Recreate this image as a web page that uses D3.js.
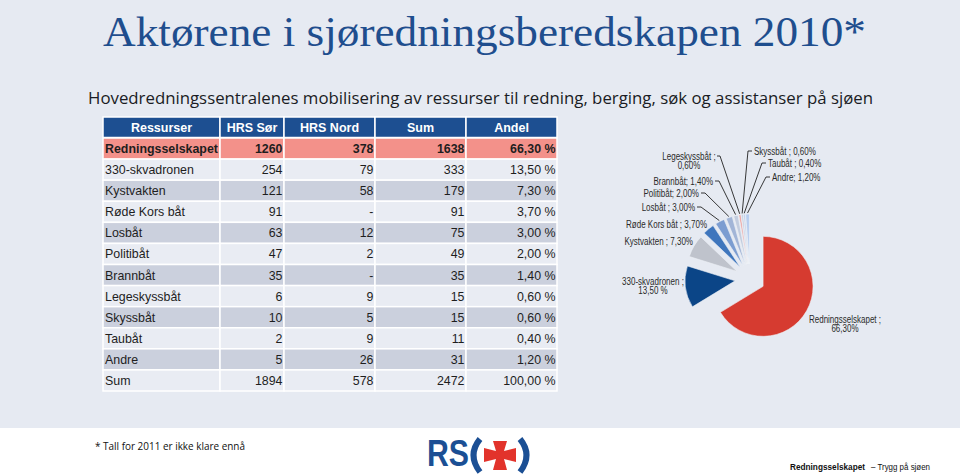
<!DOCTYPE html>
<html><head><meta charset="utf-8">
<script src="https://cdn.jsdelivr.net/npm/d3@7"></script>
<style>body{margin:0;background:#fff;} svg{display:block;}</style>
</head><body><svg id="c" width="960" height="474"></svg>
<script>
// ---------- DATA ----------
const columns = ["Ressurser", "HRS Sør", "HRS Nord", "Sum", "Andel"];
const categories = ["Redningsselskapet", "330-skvadronen", "Kystvakten", "Røde Kors båt", "Losbåt", "Politibåt", "Brannbåt", "Legeskyssbåt", "Skyssbåt", "Taubåt", "Andre"];
const hrsSor = [1260, 254, 121, 91, 63, 47, 35, 6, 10, 2, 5];
const hrsNord = [378, 79, 58, null, 12, 2, null, 9, 5, 9, 26];
const sums = [1638, 333, 179, 91, 75, 49, 35, 15, 15, 11, 31];
const andel = [66.3, 13.5, 7.3, 3.7, 3.0, 2.0, 1.4, 0.6, 0.6, 0.4, 1.2];
const totalRow = ["Sum", 1894, 578, 2472, 100];
const pieLabelText = [
  ["Redningsselskapet  ;", "66,30%"], ["330-skvadronen ;", "13,50 %"], ["Kystvakten ; 7,30%"],
  ["Røde Kors båt ; 3,70%"], ["Losbåt ; 3,00%"], ["Politibåt; 2,00%"], ["Brannbåt; 1,40%"],
  ["Legeskyssbåt ;", "0,60%"], ["Skyssbåt ; 0,60%"], ["Taubåt ; 0,40%"], ["Andre; 1,20%"]
];
const titleText = "Aktørene i sjøredningsberedskapen 2010*";
const subtitleText = "Hovedredningssentralenes mobilisering av ressurser til redning, berging, søk og assistanser på sjøen";
const footnoteText = "* Tall for 2011 er ikke klare ennå";

// ---------- STYLE / LAYOUT ----------
const pieColors = ["#d63b30", "#0b4587", "#bfc3cc", "#3f76bd", "#7c9dd1", "#a2b5d7", "#c3cddf", "#ec9c98", "#c6d0e2", "#a9c0e6", "#b7cdef"];
const labelLayout = [
  {x: 845, y: 319, a: "middle", lead: false},
  {x: 653, y: 281, a: "middle", lead: false},
  {x: 693, y: 241, a: "end", lead: false},
  {x: 707, y: 224, a: "end", lead: false},
  {x: 695, y: 207, a: "end", lead: true},
  {x: 699, y: 193, a: "end", lead: true},
  {x: 713, y: 181, a: "end", lead: true},
  {x: 689, y: 156, a: "middle", lead: true, lx: 717},
  {x: 754, y: 151, a: "start", lead: true},
  {x: 768, y: 163, a: "start", lead: true},
  {x: 772, y: 177, a: "start", lead: true}
];
const colEdges = [103, 220, 284, 375, 466, 557];

const svg = d3.select("#c");
const SANS = "'Liberation Sans', Arial, sans-serif";

// background
svg.append("rect").attr("width", 960).attr("height", 474).attr("fill", "#fff");
svg.append("rect").attr("width", 960).attr("height", 428).attr("fill", "#e6eaf2");

// titles
svg.append("text").attr("x", 103).attr("y", 46)
  .attr("font-family", "'Liberation Serif', 'DejaVu Serif', serif").attr("font-size", 43)
  .attr("fill", "#1f4e8e").attr("textLength", 763).attr("lengthAdjust", "spacingAndGlyphs")
  .text(titleText);
svg.append("text").attr("x", 88).attr("y", 104)
  .attr("font-family", "'Open Sans', sans-serif").attr("font-size", 17)
  .attr("fill", "#1a1c24").attr("textLength", 785).attr("lengthAdjust", "spacingAndGlyphs")
  .text(subtitleText);

// ---------- TABLE ----------
const fmtPct = d3.formatLocale({decimal: ",", thousands: " ", grouping: [3], currency: ["", ""]}).format(".2f");
const rows = categories.map((c, i) => [c, hrsSor[i], hrsNord[i], sums[i], andel[i]]);
rows.push(totalRow);
const yRow = d3.scaleBand().domain(d3.range(rows.length)).range([138, 391]);
const table = svg.append("g");

const header = table.append("g");
columns.forEach((c, j) => {
  header.append("rect").attr("x", colEdges[j]).attr("y", 117)
    .attr("width", colEdges[j + 1] - colEdges[j]).attr("height", 20.5)
    .attr("fill", "#1d4f91").attr("stroke", "#fff").attr("stroke-width", 1.5);
  header.append("text").attr("x", (colEdges[j] + colEdges[j + 1]) / 2).attr("y", 127.5)
    .attr("text-anchor", "middle").attr("dominant-baseline", "central")
    .attr("font-family", SANS).attr("font-size", 12.5).attr("font-weight", "bold")
    .attr("fill", "#fff").text(c);
});

rows.forEach((r, i) => {
  const g = table.append("g");
  const fill = i === 0 ? "#f3918a" : (i % 2 === 0 ? "#cbd0dd" : "#e9ecf3");
  r.forEach((v, j) => {
    g.append("rect").attr("x", colEdges[j]).attr("y", yRow(i))
      .attr("width", colEdges[j + 1] - colEdges[j]).attr("height", yRow.bandwidth())
      .attr("fill", fill).attr("stroke", "#fff").attr("stroke-width", 1.5);
    let txt;
    if (j === 0) txt = v;
    else if (j === 4) txt = fmtPct(v) + " %";
    else txt = v == null ? "-" : String(v);
    g.append("text")
      .attr("x", j === 0 ? colEdges[0] + 2 : colEdges[j + 1] - 1.5)
      .attr("y", yRow(i) + yRow.bandwidth() / 2 + 0.5)
      .attr("text-anchor", j === 0 ? "start" : "end").attr("dominant-baseline", "central")
      .attr("font-family", SANS).attr("font-size", 12.4)
      .attr("font-weight", i === 0 ? "bold" : "normal")
      .attr("fill", "#1e1e1e").text(txt);
  });
});

// ---------- PIE ----------
const cx = 750, cy = 279, R = 50, EXPLODE = 15;
const pie = d3.pie().sort(null).value(d => d)(andel);
const arc = d3.arc().innerRadius(0).outerRadius(R);
const pg = svg.append("g").attr("transform", `translate(${cx},${cy})`);
const mid = d => (d.startAngle + d.endAngle) / 2;
pg.selectAll("path.slice").data(pie).join("path").attr("class", "slice")
  .attr("transform", d => `translate(${EXPLODE * Math.sin(mid(d))},${-EXPLODE * Math.cos(mid(d))})`)
  .attr("d", arc).attr("fill", (d, i) => pieColors[i])
  .attr("stroke", "#eef1f7").attr("stroke-width", 0.6);

// leader lines
pie.forEach((d, i) => {
  const L = labelLayout[i];
  if (!L.lead) return;
  const m = mid(d), rr = EXPLODE + R + 1;
  const ex = cx + rr * Math.sin(m), ey = cy - rr * Math.cos(m);
  let sx, kx;
  if (L.a === "end") { sx = L.x + 2; kx = sx + 4; }
  else if (L.a === "start") { sx = L.x - 2; kx = sx - 4; }
  else { sx = L.lx; kx = sx + 3; }
  svg.append("path").attr("d", `M${sx},${L.y}L${kx},${L.y}L${ex},${ey}`)
    .attr("fill", "none").attr("stroke", "#222").attr("stroke-width", 0.9);
});

// labels (condensed like the original)
pieLabelText.forEach((lines, i) => {
  const L = labelLayout[i];
  lines.forEach((ln, k) => {
    const t = svg.append("text").attr("font-family", SANS).attr("font-size", 10)
      .attr("fill", "#2a2a2a").attr("text-anchor", L.a)
      .attr("x", L.x).attr("y", L.y + k * 9.5).attr("dominant-baseline", "central").text(ln);
    const w = t.node().getComputedTextLength();
    t.attr("textLength", w * 0.8).attr("lengthAdjust", "spacingAndGlyphs");
  });
});

// ---------- FOOTER ----------
svg.append("text").attr("x", 95).attr("y", 450)
  .attr("font-family", "'Open Sans', sans-serif").attr("font-size", 11).attr("fill", "#111")
  .attr("textLength", 150).attr("lengthAdjust", "spacingAndGlyphs").text(footnoteText);

svg.append("text").attr("x", 790).attr("y", 470)
  .attr("font-family", SANS).attr("font-size", 9.5).attr("font-weight", "bold").attr("fill", "#111")
  .attr("textLength", 75).attr("lengthAdjust", "spacingAndGlyphs").text("Redningsselskapet");
svg.append("text").attr("x", 871).attr("y", 470)
  .attr("font-family", SANS).attr("font-size", 9.5).attr("fill", "#111")
  .attr("textLength", 59).attr("lengthAdjust", "spacingAndGlyphs").text("– Trygg på sjøen");

// logo
const logo = svg.append("g");
logo.append("text").attr("x", 427).attr("y", 466)
  .attr("font-family", SANS).attr("font-size", 37).attr("font-weight", "bold")
  .attr("fill", "#1b4f94").attr("textLength", 42).attr("lengthAdjust", "spacingAndGlyphs").text("RS");
logo.append("path").attr("d", "M480,439 Q467,455 480,472").attr("fill", "none").attr("stroke", "#1b4f94").attr("stroke-width", 6);
logo.append("path").attr("d", "M520,439 Q533,455 520,472").attr("fill", "none").attr("stroke", "#1b4f94").attr("stroke-width", 6);
const ccx = 500, ccy = 455;
logo.append("polygon").attr("fill", "#e2332b").attr("points", [
  [ccx-7,441],[ccx+7,441],[ccx+4,ccy-4],[516,ccy-7],[516,ccy+7],[ccx+4,ccy+4],
  [ccx+7,470],[ccx-7,470],[ccx-4,ccy+4],[484,ccy+7],[484,ccy-7],[ccx-4,ccy-4]
].map(p => p.join(",")).join(" "));
</script></body></html>
